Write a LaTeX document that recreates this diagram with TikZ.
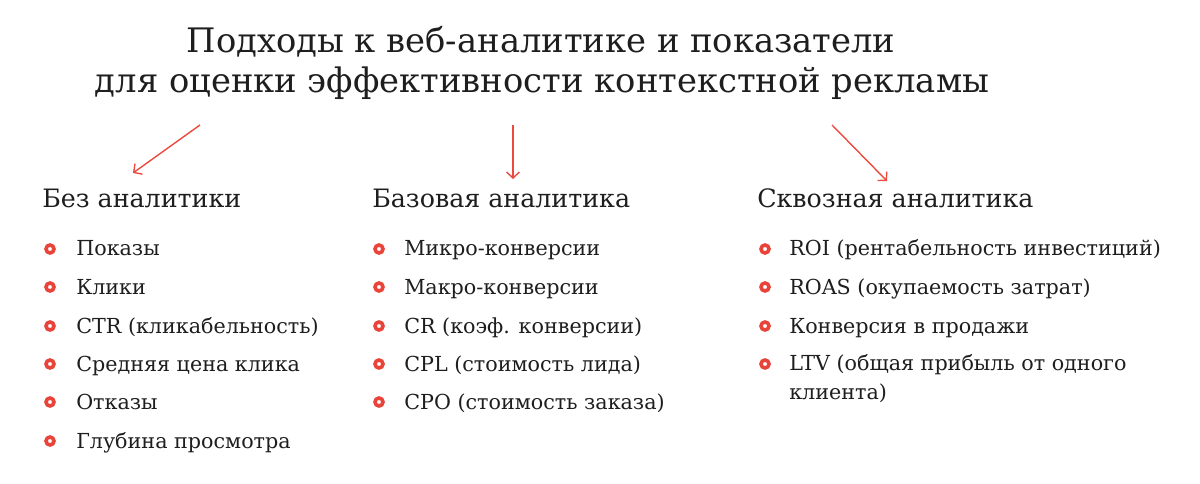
\documentclass[tikz,border=0pt]{standalone}
\usepackage{fontspec}
\setmainfont{DejaVu Serif}
\usepackage{tikz}
\usetikzlibrary{arrows.meta}
\definecolor{arrowred}{HTML}{EC4A3F}
\definecolor{bulletred}{HTML}{E9443A}
\definecolor{textgray}{HTML}{1E1E1E}
\tikzstyle{arrow} = [-{Straight Barb[length=0.15cm,width=0.32cm]},draw=arrowred,line width=0.035cm]
\tikzstyle{title} = [anchor=base,inner sep=0pt,font=\fontsize{24}{28}\selectfont,text=textgray]
\tikzstyle{head} = [anchor=base west,inner sep=0pt,font=\fontsize{18}{21}\selectfont,text=textgray]
\tikzstyle{item} = [anchor=base west,inner sep=0pt,font=\fontsize{14.7}{20.5}\selectfont,text=textgray]
\tikzstyle{dot} = [circle,draw=bulletred,fill=white,line width=0.09cm,minimum size=0.2cm,inner sep=0pt]

\begin{document}
\begin{tikzpicture}[x=0.025cm,y=-0.025cm]
          \fill[white] (0,0) rectangle (1200,484);
          \node[title] at (541,53) (t1) {Подходы к веб-аналитике и показатели};
          \node[title] at (542,93) (t2) {для оценки эффективности контекстной рекламы};

          \node[head] at (42,208) (h1) {Без аналитики};
          \node[head] at (372,208) (h2) {Базовая аналитика};
          \node[head] at (757,208) (h3) {Сквозная аналитика};

          \coordinate (a1) at (200,125);
          \coordinate (e1) at (133,173);
          \coordinate (a2) at (513,125);
          \coordinate (e2) at (513,179);
          \coordinate (a3) at (832,125);
          \coordinate (e3) at (887,181);
          \draw[arrow] (a1) -- (e1);
          \draw[arrow] (a2) -- (e2);
          \draw[arrow] (a3) -- (e3);

          % first column
          \node[dot] at (50,249) (b11) {};
          \node[dot] at (50,287) (b12) {};
          \node[dot] at (50,326) (b13) {};
          \node[dot] at (50,364) (b14) {};
          \node[dot] at (50,402) (b15) {};
          \node[dot] at (50,441) (b16) {};
          \node[item] at (76,256) (i11) {Показы};
          \node[item] at (76,294) (i12) {Клики};
          \node[item] at (76,333) (i13) {CTR (кликабельность)};
          \node[item] at (76,371) (i14) {Средняя цена клика};
          \node[item] at (76,409) (i15) {Отказы};
          \node[item] at (76,448) (i16) {Глубина просмотра};

          % second column
          \node[dot] at (379,249) (b21) {};
          \node[dot] at (379,287) (b22) {};
          \node[dot] at (379,326) (b23) {};
          \node[dot] at (379,364) (b24) {};
          \node[dot] at (379,402) (b25) {};
          \node[item] at (404,256) (i21) {Микро-конверсии};
          \node[item] at (404,294) (i22) {Макро-конверсии};
          \node[item] at (404,333) (i23) {CR (коэф. конверсии)};
          \node[item] at (404,371) (i24) {CPL (стоимость лида)};
          \node[item] at (404,409) (i25) {CPO (стоимость заказа)};

          % third column
          \node[dot] at (765,249) (b31) {};
          \node[dot] at (765,287) (b32) {};
          \node[dot] at (765,326) (b33) {};
          \node[dot] at (765,364) (b34) {};
          \node[item] at (789,256) (i31) {ROI (рентабельность инвестиций)};
          \node[item] at (789,294) (i32) {ROAS (окупаемость затрат)};
          \node[item] at (789,333) (i33) {Конверсия в продажи};
          \node[item,align=left,anchor=north west] at (789,354) (i34) {LTV (общая прибыль от одного\\клиента)};
\end{tikzpicture}
\end{document}
